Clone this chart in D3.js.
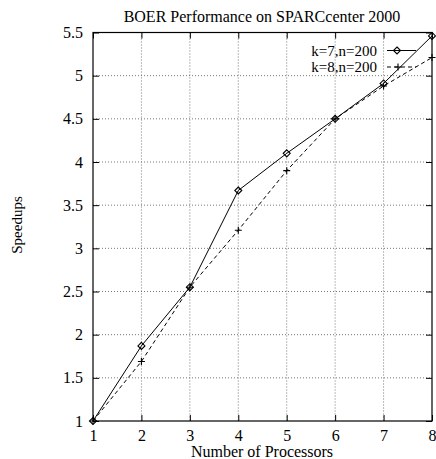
<!DOCTYPE html>
<html><head><meta charset="utf-8">
<script src="https://cdn.jsdelivr.net/npm/d3@7"></script>
<style>body{margin:0;background:#fff;}svg{display:block;}</style>
</head><body>
<script>
const processors = [1, 2, 3, 4, 5, 6, 7, 8];
const k7 = [1, 1.87, 2.55, 3.67, 4.10, 4.50, 4.91, 5.46];
const k8 = [1, 1.69, 2.55, 3.21, 3.90, 4.50, 4.88, 5.21];
const seriesNames = ["k=7,n=200", "k=8,n=200"];
const yTicks = [1, 1.5, 2, 2.5, 3, 3.5, 4, 4.5, 5, 5.5];
const xTicks = [1, 2, 3, 4, 5, 6, 7, 8];
const title = "BOER Performance on SPARCcenter 2000";
const xLabel = "Number of Processors";
const yLabel = "Speedups";

const W = 436, H = 459;
const m = {left: 93, right: 432, top: 32.5, bottom: 421};
const font = "Liberation Serif, Times New Roman, serif";
const fs = 16;

const svg = d3.select("body").append("svg").attr("width", W).attr("height", H);
const x = d3.scaleLinear().domain([1, 8]).range([m.left, m.right]);
const y = d3.scaleLinear().domain([1, 5.5]).range([m.bottom, m.top]);

// grid
const grid = svg.append("g").attr("stroke", "#555").attr("stroke-width", 0.8).attr("stroke-dasharray", "1,2");
grid.selectAll(".gx").data(xTicks.slice(1, -1)).join("line")
  .attr("x1", d => x(d)).attr("x2", d => x(d)).attr("y1", m.top).attr("y2", m.bottom);
grid.selectAll(".gy").data(yTicks.slice(1, -1)).join("line")
  .attr("y1", d => y(d)).attr("y2", d => y(d)).attr("x1", m.left).attr("x2", m.right);

// axes with inward ticks
const axB = d3.axisBottom(x).tickValues(xTicks).tickSizeInner(-6).tickSizeOuter(0).tickFormat(d3.format("d"));
const axT = d3.axisTop(x).tickValues(xTicks).tickSizeInner(-6).tickSizeOuter(0).tickFormat("");
const axL = d3.axisLeft(y).tickValues(yTicks).tickSizeInner(-6).tickSizeOuter(0).tickPadding(10).tickFormat(d => d3.format("")(d));
const axR = d3.axisRight(y).tickValues(yTicks).tickSizeInner(-6).tickSizeOuter(0).tickFormat("");

function style(g) {
  g.select(".domain").remove();
  g.selectAll("text").attr("font-family", font).attr("font-size", fs).attr("fill", "#000");
  g.selectAll("line").attr("stroke", "#000");
}
const gB = svg.append("g").attr("transform", `translate(0,${m.bottom})`).call(axB).call(style);
gB.selectAll("text").attr("y", 20).attr("dy", null);
svg.append("g").attr("transform", `translate(0,${m.top})`).call(axT).call(style);
svg.append("g").attr("transform", `translate(${m.left},0)`).call(axL).call(style);
svg.append("g").attr("transform", `translate(${m.right},0)`).call(axR).call(style);

svg.append("rect").attr("x", m.left).attr("y", m.top).attr("width", m.right - m.left).attr("height", m.bottom - m.top)
  .attr("fill", "none").attr("stroke", "#000").attr("stroke-width", 1.2);

// lines
const line = d3.line().x((d, i) => x(processors[i])).y(d => y(d));
svg.append("path").datum(k7).attr("d", line).attr("fill", "none").attr("stroke", "#000").attr("stroke-width", 1);
svg.append("path").datum(k8).attr("d", line).attr("fill", "none").attr("stroke", "#000").attr("stroke-width", 1).attr("stroke-dasharray", "4,3");

function diamond(g, cx, cy) {
  g.append("path").attr("d", `M${cx},${cy - 3.5}L${cx + 3.5},${cy}L${cx},${cy + 3.5}L${cx - 3.5},${cy}Z`)
    .attr("fill", "none").attr("stroke", "#000").attr("stroke-width", 1.1);
}
function plus(g, cx, cy) {
  g.append("path").attr("d", `M${cx - 3.5},${cy}H${cx + 3.5}M${cx},${cy - 3.5}V${cy + 3.5}`)
    .attr("fill", "none").attr("stroke", "#000").attr("stroke-width", 1.1);
}
const mk = svg.append("g");
k7.forEach((v, i) => diamond(mk, x(processors[i]), y(v)));
k8.forEach((v, i) => plus(mk, x(processors[i]), y(v)));

// legend
const leg = svg.append("g");
const rows = [50.5, 67];
seriesNames.forEach((name, i) => {
  leg.append("text").attr("x", 377).attr("y", rows[i] + 5).attr("text-anchor", "end")
    .attr("font-family", font).attr("font-size", 15).text(name);
  const l = leg.append("line").attr("x1", 387).attr("x2", 416).attr("y1", rows[i]).attr("y2", rows[i]).attr("stroke", "#000");
  if (i === 1) l.attr("stroke-dasharray", "4,3");
  if (i === 0) diamond(leg, 397, rows[i]); else plus(leg, 398, rows[i]);
});

// titles
svg.append("text").attr("x", 262).attr("y", 21.5).attr("text-anchor", "middle")
  .attr("font-family", font).attr("font-size", fs).text(title);
svg.append("text").attr("x", 262).attr("y", 457).attr("text-anchor", "middle")
  .attr("font-family", font).attr("font-size", fs).text(xLabel);
svg.append("text").attr("transform", "translate(21.5,225) rotate(-90)").attr("text-anchor", "middle")
  .attr("font-family", font).attr("font-size", 15).text(yLabel);
</script>
</body></html>
